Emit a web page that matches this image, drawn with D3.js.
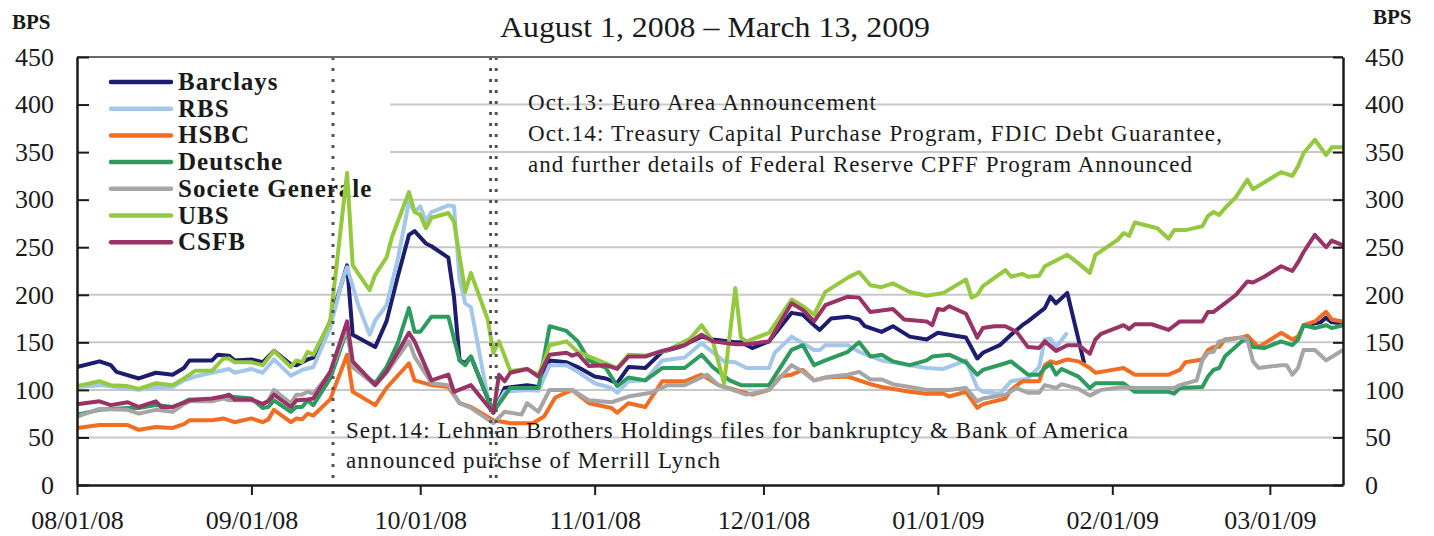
<!DOCTYPE html>
<html>
<head>
<meta charset="utf-8">
<script src="https://cdn.jsdelivr.net/npm/d3@7"></script>
<style>
body{margin:0;background:#fff;}
text{font-family:"Liberation Serif","Times New Roman",serif;fill:#1a1a1a;}
</style>
</head>
<body>
<script>
// dane (bps)
var barclays=[["2008-08-01",124],["2008-08-05",130],["2008-08-07",126],["2008-08-08",119],["2008-08-12",112],["2008-08-15",118],["2008-08-18",116],["2008-08-20",123],["2008-08-21",131],["2008-08-25",131],["2008-08-26",137],["2008-08-28",136],["2008-08-29",131],["2008-09-01",132],["2008-09-03",129],["2008-09-05",141],["2008-09-08",127],["2008-09-09",126],["2008-09-11",132],["2008-09-12",134],["2008-09-15",172],["2008-09-18",231],["2008-09-19",158],["2008-09-23",145],["2008-09-25",172],["2008-09-27",219],["2008-09-29",263],["2008-09-30",267],["2008-10-02",254],["2008-10-03",251],["2008-10-06",239],["2008-10-07",198],["2008-10-08",131],["2008-10-09",128],["2008-10-10",135],["2008-10-14",76],["2008-10-16",102],["2008-10-20",105],["2008-10-22",103],["2008-10-24",131],["2008-10-27",129],["2008-10-29",124],["2008-11-01",114],["2008-11-03",112],["2008-11-05",107],["2008-11-07",124],["2008-11-10",123],["2008-11-13",140],["2008-11-16",145],["2008-11-20",156],["2008-11-22",153],["2008-11-26",150],["2008-11-27",150],["2008-11-29",144],["2008-12-02",151],["2008-12-06",181],["2008-12-08",179],["2008-12-10",168],["2008-12-11",163],["2008-12-13",175],["2008-12-16",177],["2008-12-18",174],["2008-12-19",167],["2008-12-22",161],["2008-12-24",167],["2008-12-27",156],["2008-12-30",153],["2009-01-01",160],["2009-01-03",158],["2009-01-06",155],["2009-01-08",133],["2009-01-09",139],["2009-01-12",147],["2009-01-14",158],["2009-01-16",168],["2009-01-17",172],["2009-01-20",186],["2009-01-21",198],["2009-01-22",191],["2009-01-24",202],["2009-01-27",128],["2009-01-28",null],["2009-03-07",167],["2009-03-09",170],["2009-03-10",171],["2009-03-11",176],["2009-03-12",171],["2009-03-14",170]];
var rbs=[["2008-08-01",103],["2008-08-05",105],["2008-08-12",100],["2008-08-15",103],["2008-08-18",103],["2008-08-20",110],["2008-08-22",114],["2008-08-25",118],["2008-08-28",122],["2008-08-29",118],["2008-09-01",122],["2008-09-03",118],["2008-09-05",132],["2008-09-08",115],["2008-09-10",121],["2008-09-12",124],["2008-09-15",165],["2008-09-17",212],["2008-09-18",229],["2008-09-20",189],["2008-09-22",158],["2008-09-23",173],["2008-09-25",189],["2008-09-27",237],["2008-09-29",298],["2008-09-30",287],["2008-10-01",293],["2008-10-02",277],["2008-10-03",287],["2008-10-06",294],["2008-10-07",293],["2008-10-08",216],["2008-10-09",191],["2008-10-10",187],["2008-10-13",92],["2008-10-14",78],["2008-10-16",98],["2008-10-20",100],["2008-10-22",99],["2008-10-24",126],["2008-10-27",126],["2008-10-29",119],["2008-11-01",107],["2008-11-04",102],["2008-11-05",97],["2008-11-07",109],["2008-11-10",110],["2008-11-13",131],["2008-11-17",134],["2008-11-20",149],["2008-11-24",130],["2008-11-26",129],["2008-11-28",123],["2008-12-02",123],["2008-12-03",139],["2008-12-06",156],["2008-12-08",149],["2008-12-10",142],["2008-12-11",142],["2008-12-12",147],["2008-12-16",147],["2008-12-18",140],["2008-12-22",131],["2008-12-27",126],["2008-12-30",123],["2009-01-02",122],["2009-01-06",131],["2009-01-08",102],["2009-01-09",98],["2009-01-12",96],["2009-01-14",109],["2009-01-17",112],["2009-01-19",124],["2009-01-20",153],["2009-01-21",154],["2009-01-22",145],["2009-01-24",160]];
var hsbc=[["2008-08-01",60],["2008-08-05",63],["2008-08-10",63],["2008-08-12",58],["2008-08-15",61],["2008-08-18",60],["2008-08-20",64],["2008-08-21",68],["2008-08-25",68],["2008-08-27",70],["2008-08-29",66],["2008-09-01",70],["2008-09-03",66],["2008-09-04",69],["2008-09-05",79],["2008-09-08",66],["2008-09-09",70],["2008-09-10",69],["2008-09-11",75],["2008-09-12",73],["2008-09-15",90],["2008-09-18",137],["2008-09-19",98],["2008-09-23",84],["2008-09-25",102],["2008-09-29",128],["2008-09-30",110],["2008-10-03",105],["2008-10-06",103],["2008-10-08",86],["2008-10-10",82],["2008-10-14",68],["2008-10-17",65],["2008-10-21",65],["2008-10-23",72],["2008-10-25",92],["2008-10-28",100],["2008-10-31",86],["2008-11-04",81],["2008-11-05",76],["2008-11-07",86],["2008-11-10",82],["2008-11-13",109],["2008-11-17",109],["2008-11-20",116],["2008-11-23",105],["2008-11-29",95],["2008-12-02",100],["2008-12-04",114],["2008-12-06",116],["2008-12-08",121],["2008-12-10",110],["2008-12-12",113],["2008-12-16",114],["2008-12-20",106],["2008-12-22",103],["2008-12-27",98],["2008-12-30",96],["2009-01-02",96],["2009-01-03",93],["2009-01-06",98],["2009-01-08",81],["2009-01-09",85],["2009-01-13",91],["2009-01-14",100],["2009-01-16",109],["2009-01-19",109],["2009-01-20",126],["2009-01-21",130],["2009-01-22",128],["2009-01-24",132],["2009-01-26",130],["2009-01-28",123],["2009-01-29",118],["2009-01-31",120],["2009-02-03",123],["2009-02-05",116],["2009-02-11",116],["2009-02-13",121],["2009-02-14",129],["2009-02-17",132],["2009-02-18",142],["2009-02-19",145],["2009-02-20",145],["2009-02-21",153],["2009-02-24",155],["2009-02-25",157],["2009-02-27",145],["2009-03-03",160],["2009-03-05",153],["2009-03-06",156],["2009-03-07",168],["2009-03-09",172],["2009-03-11",182],["2009-03-12",174],["2009-03-14",172]];
var deutsche=[["2008-08-01",74],["2008-08-05",79],["2008-08-10",81],["2008-08-12",81],["2008-08-15",84],["2008-08-18",82],["2008-08-20",87],["2008-08-21",90],["2008-08-25",90],["2008-08-27",93],["2008-08-28",93],["2008-09-01",91],["2008-09-03",81],["2008-09-04",82],["2008-09-05",89],["2008-09-08",77],["2008-09-09",82],["2008-09-10",82],["2008-09-11",89],["2008-09-12",84],["2008-09-15",112],["2008-09-18",163],["2008-09-19",124],["2008-09-23",107],["2008-09-25",124],["2008-09-27",149],["2008-09-29",186],["2008-09-30",161],["2008-10-01",161],["2008-10-03",177],["2008-10-06",177],["2008-10-08",131],["2008-10-09",126],["2008-10-10",135],["2008-10-14",77],["2008-10-17",102],["2008-10-22",102],["2008-10-24",167],["2008-10-27",162],["2008-10-29",151],["2008-10-31",131],["2008-11-03",123],["2008-11-05",104],["2008-11-07",113],["2008-11-10",110],["2008-11-13",123],["2008-11-17",123],["2008-11-20",137],["2008-11-22",124],["2008-11-25",110],["2008-11-27",105],["2008-12-02",105],["2008-12-06",142],["2008-12-08",147],["2008-12-10",126],["2008-12-12",131],["2008-12-16",140],["2008-12-18",150],["2008-12-20",135],["2008-12-22",137],["2008-12-24",130],["2008-12-27",126],["2008-12-30",131],["2008-12-31",135],["2009-01-03",137],["2009-01-06",129],["2009-01-08",116],["2009-01-09",121],["2009-01-13",128],["2009-01-14",130],["2009-01-17",116],["2009-01-19",116],["2009-01-20",123],["2009-01-21",127],["2009-01-22",116],["2009-01-23",122],["2009-01-26",114],["2009-01-28",102],["2009-01-29",107],["2009-02-03",107],["2009-02-05",98],["2009-02-11",98],["2009-02-12",96],["2009-02-13",102],["2009-02-17",103],["2009-02-18",114],["2009-02-19",121],["2009-02-20",123],["2009-02-21",135],["2009-02-24",151],["2009-02-25",154],["2009-02-26",145],["2009-02-28",144],["2009-03-03",151],["2009-03-05",147],["2009-03-06",153],["2009-03-07",168],["2009-03-09",165],["2009-03-11",168],["2009-03-12",165],["2009-03-14",168]];
var socgen=[["2008-08-01",72],["2008-08-05",80],["2008-08-10",79],["2008-08-12",75],["2008-08-15",79],["2008-08-18",77],["2008-08-20",85],["2008-08-21",88],["2008-08-25",88],["2008-08-27",91],["2008-08-28",89],["2008-09-01",89],["2008-09-03",85],["2008-09-04",89],["2008-09-05",100],["2008-09-08",86],["2008-09-09",95],["2008-09-10",95],["2008-09-11",98],["2008-09-12",96],["2008-09-15",118],["2008-09-18",165],["2008-09-19",124],["2008-09-23",105],["2008-09-25",118],["2008-09-29",151],["2008-09-30",135],["2008-10-03",107],["2008-10-06",105],["2008-10-08",86],["2008-10-10",81],["2008-10-14",65],["2008-10-16",77],["2008-10-19",74],["2008-10-20",86],["2008-10-22",77],["2008-10-24",100],["2008-10-28",100],["2008-10-31",89],["2008-11-04",87],["2008-11-07",93],["2008-11-11",97],["2008-11-14",105],["2008-11-17",105],["2008-11-21",116],["2008-11-23",105],["2008-11-28",95],["2008-12-02",100],["2008-12-06",126],["2008-12-08",119],["2008-12-10",110],["2008-12-13",114],["2008-12-16",116],["2008-12-18",119],["2008-12-20",111],["2008-12-22",111],["2008-12-24",106],["2008-12-27",103],["2008-12-30",100],["2009-01-03",100],["2009-01-06",102],["2009-01-08",88],["2009-01-09",91],["2009-01-13",95],["2009-01-15",102],["2009-01-17",97],["2009-01-19",97],["2009-01-20",105],["2009-01-22",102],["2009-01-23",106],["2009-01-26",101],["2009-01-28",94],["2009-01-30",100],["2009-02-03",103],["2009-02-05",102],["2009-02-12",102],["2009-02-13",105],["2009-02-16",110],["2009-02-17",131],["2009-02-18",139],["2009-02-19",140],["2009-02-20",151],["2009-02-22",153],["2009-02-24",155],["2009-02-25",153],["2009-02-26",130],["2009-02-27",123],["2009-03-03",126],["2009-03-04",126],["2009-03-05",116],["2009-03-06",123],["2009-03-07",142],["2009-03-09",142],["2009-03-11",131],["2009-03-14",142]];
var ubs=[["2008-08-01",104],["2008-08-05",109],["2008-08-07",105],["2008-08-10",104],["2008-08-12",101],["2008-08-15",107],["2008-08-18",105],["2008-08-20",112],["2008-08-22",120],["2008-08-25",120],["2008-08-27",133],["2008-08-28",133],["2008-08-29",129],["2008-09-01",129],["2008-09-03",126],["2008-09-05",141],["2008-09-08",124],["2008-09-09",131],["2008-09-10",129],["2008-09-11",140],["2008-09-12",137],["2008-09-15",172],["2008-09-18",328],["2008-09-19",231],["2008-09-22",205],["2008-09-23",221],["2008-09-25",239],["2008-09-26",261],["2008-09-29",308],["2008-09-30",287],["2008-10-01",284],["2008-10-02",270],["2008-10-03",281],["2008-10-06",286],["2008-10-07",277],["2008-10-09",203],["2008-10-10",223],["2008-10-13",174],["2008-10-14",139],["2008-10-15",151],["2008-10-17",120],["2008-10-20",122],["2008-10-22",116],["2008-10-23",130],["2008-10-24",147],["2008-10-27",151],["2008-10-29",140],["2008-11-05",123],["2008-11-07",137],["2008-11-10",136],["2008-11-14",142],["2008-11-18",154],["2008-11-20",168],["2008-11-22",151],["2008-11-24",107],["2008-11-26",207],["2008-11-27",155],["2008-11-28",151],["2008-12-02",160],["2008-12-06",195],["2008-12-08",188],["2008-12-10",179],["2008-12-12",203],["2008-12-16",218],["2008-12-18",224],["2008-12-20",210],["2008-12-22",208],["2008-12-24",212],["2008-12-27",203],["2008-12-30",199],["2009-01-02",202],["2009-01-06",216],["2009-01-07",197],["2009-01-08",200],["2009-01-09",209],["2009-01-13",226],["2009-01-14",219],["2009-01-16",222],["2009-01-17",219],["2009-01-19",220],["2009-01-20",230],["2009-01-24",242],["2009-01-26",233],["2009-01-28",223],["2009-01-29",242],["2009-02-02",258],["2009-02-03",265],["2009-02-04",262],["2009-02-05",276],["2009-02-09",270],["2009-02-11",259],["2009-02-12",268],["2009-02-14",268],["2009-02-17",272],["2009-02-18",283],["2009-02-19",287],["2009-02-20",284],["2009-02-21",291],["2009-02-23",303],["2009-02-25",321],["2009-02-26",311],["2009-03-03",329],["2009-03-05",325],["2009-03-06",335],["2009-03-07",349],["2009-03-09",363],["2009-03-11",347],["2009-03-12",355],["2009-03-14",355]];
var csfb=[["2008-08-01",85],["2008-08-05",88],["2008-08-07",84],["2008-08-10",87],["2008-08-12",82],["2008-08-15",88],["2008-08-16",82],["2008-08-18",82],["2008-08-21",89],["2008-08-25",91],["2008-08-27",93],["2008-08-28",95],["2008-08-29",90],["2008-09-01",90],["2008-09-03",85],["2008-09-04",88],["2008-09-05",95],["2008-09-08",82],["2008-09-09",89],["2008-09-11",90],["2008-09-12",91],["2008-09-15",119],["2008-09-18",172],["2008-09-19",130],["2008-09-23",105],["2008-09-25",119],["2008-09-29",160],["2008-09-30",151],["2008-10-03",110],["2008-10-06",116],["2008-10-07",98],["2008-10-10",105],["2008-10-14",76],["2008-10-15",116],["2008-10-16",109],["2008-10-17",118],["2008-10-20",122],["2008-10-22",114],["2008-10-24",137],["2008-10-27",139],["2008-10-28",136],["2008-10-29",138],["2008-10-31",125],["2008-11-03",126],["2008-11-05",122],["2008-11-07",135],["2008-11-10",135],["2008-11-13",141],["2008-11-17",147],["2008-11-20",158],["2008-11-22",151],["2008-11-26",148],["2008-11-28",148],["2008-12-02",151],["2008-12-06",191],["2008-12-08",184],["2008-12-10",172],["2008-12-12",189],["2008-12-16",198],["2008-12-18",197],["2008-12-20",182],["2008-12-24",185],["2008-12-26",174],["2008-12-30",172],["2008-12-31",168],["2009-01-01",185],["2009-01-02",184],["2009-01-03",188],["2009-01-06",180],["2009-01-08",155],["2009-01-09",165],["2009-01-11",167],["2009-01-13",167],["2009-01-15",161],["2009-01-17",145],["2009-01-19",144],["2009-01-20",151],["2009-01-22",141],["2009-01-24",147],["2009-01-26",147],["2009-01-28",138],["2009-01-29",153],["2009-01-30",159],["2009-02-03",168],["2009-02-04",164],["2009-02-05",169],["2009-02-08",169],["2009-02-11",163],["2009-02-13",172],["2009-02-17",172],["2009-02-18",182],["2009-02-19",182],["2009-02-21",191],["2009-02-23",200],["2009-02-25",214],["2009-02-26",213],["2009-02-28",219],["2009-03-03",230],["2009-03-05",225],["2009-03-06",234],["2009-03-07",245],["2009-03-09",263],["2009-03-11",250],["2009-03-12",257],["2009-03-14",252]];

var nazwy=["Barclays","RBS","HSBC","Deutsche","Societe Generale","UBS","CSFB"];
var kolory=["#1d1d6f","#a3c7ea","#f26d21","#2e9b5e","#a5a5a5","#93c83f","#993366"];
var serie=[barclays,rbs,hsbc,deutsche,socgen,ubs,csfb];

var yTicks=[0,50,100,150,200,250,300,350,400,450];
var xTicks=["2008-08-01","2008-09-01","2008-10-01","2008-11-01","2008-12-01","2009-01-01","2009-02-01","2009-03-01"];
var zdarzenia=["2008-09-15","2008-10-13","2008-10-14"];
var tytul="August 1, 2008 \u2013 March 13, 2009";
var opisOkt=["Oct.13: Euro Area Announcement","Oct.14: Treasury Capital Purchase Program, FDIC Debt Guarantee,","and further details of Federal Reserve CPFF Program Announced"];
var opisWrz=["Sept.14: Lehman Brothers Holdings files for bankruptcy & Bank of America","announced purchse of Merrill Lynch"];

var parse=d3.timeParse("%Y-%m-%d");
var L=77,R=1343,T=57,B=485;

var x=d3.scaleTime().domain([parse("2008-08-01"),parse("2009-03-14")]).range([L,R]);
var y=d3.scaleLinear().domain([0,450]).range([B,T]);

var svg=d3.select("body").append("svg")
	.attr("width",1434)
	.attr("height",536);

// linie siatki
svg.append("g").selectAll("line")
	.data(yTicks.filter(function(v){return v>0&&v<450;}))
	.enter().append("line")
	.attr("x1",L).attr("x2",R)
	.attr("y1",function(v){return y(v);})
	.attr("y2",function(v){return y(v);})
	.style("stroke","#c8c8c8")
	.style("stroke-width",2);

// tlo legendy zaslania siatke
svg.append("rect")
	.attr("x",L+1).attr("y",T+2)
	.attr("width",312).attr("height",197)
	.style("fill","white");

// legenda
var leg=svg.append("g");
nazwy.forEach(function(n,i){
	var ly=82+i*26.7;
	leg.append("line")
		.attr("x1",111).attr("x2",171)
		.attr("y1",ly).attr("y2",ly)
		.style("stroke",kolory[i])
		.style("stroke-width",4.5)
		.style("stroke-linecap","round");
	leg.append("text")
		.attr("x",178).attr("y",ly+8)
		.style("font-size","25px")
		.style("font-weight","bold")
		.style("letter-spacing","1px")
		.text(n);
});

// serie
var linia=d3.line()
	.defined(function(d){return d[1]!=null;})
	.x(function(d){return x(parse(d[0]));})
	.y(function(d){return y(d[1]);});

serie.forEach(function(s,i){
	svg.append("path")
		.datum(s)
		.attr("d",linia)
		.style("fill","none")
		.style("stroke",kolory[i])
		.style("stroke-width",4)
		.style("stroke-linejoin","round");
});

// linie zdarzen (kropkowane)
svg.append("g").selectAll("line")
	.data(zdarzenia)
	.enter().append("line")
	.attr("x1",function(d){return x(d3.timeHour.offset(parse(d),12));})
	.attr("x2",function(d){return x(d3.timeHour.offset(parse(d),12));})
	.attr("y1",T).attr("y2",B)
	.style("stroke","#555")
	.style("stroke-width",3)
	.style("stroke-dasharray","3,8");

// opisy
var dlOkt=[348,694,664];
opisOkt.forEach(function(t,i){
	svg.append("text")
		.attr("x",528).attr("y",110+i*31)
		.attr("textLength",dlOkt[i])
		.attr("lengthAdjust","spacing")
		.style("font-size","23px")
		.text(t);
});
var dlWrz=[782,374];
opisWrz.forEach(function(t,i){
	svg.append("text")
		.attr("x",346).attr("y",438+i*30)
		.attr("textLength",dlWrz[i])
		.attr("lengthAdjust","spacing")
		.style("font-size","23px")
		.text(t);
});

// tytul
svg.append("text")
	.attr("x",715).attr("y",37)
	.attr("text-anchor","middle")
	.attr("textLength",430)
	.attr("lengthAdjust","spacingAndGlyphs")
	.style("font-size","29px")
	.text(tytul);

svg.append("text").attr("x",12).attr("y",29)
	.style("font-size","21px").style("font-weight","bold").text("BPS");
svg.append("text").attr("x",1373).attr("y",24)
	.style("font-size","21px").style("font-weight","bold").text("BPS");

// gorna ramka
svg.append("line")
	.attr("x1",L).attr("x2",R).attr("y1",T).attr("y2",T)
	.style("stroke","#6a6a6a").style("stroke-width",2);

// osie
var osL=svg.append("g").attr("transform","translate("+L+",0)")
	.call(d3.axisLeft(y).tickValues(yTicks).tickSizeInner(-12).tickSizeOuter(0).tickPadding(23));
var osP=svg.append("g").attr("transform","translate("+R+",0)")
	.call(d3.axisRight(y).tickValues(yTicks).tickSizeInner(-10).tickSizeOuter(0).tickPadding(22));
var osD=svg.append("g").attr("transform","translate(0,"+B+")")
	.call(d3.axisBottom(x).tickValues(xTicks.map(parse)).tickFormat(d3.timeFormat("%m/%d/%y"))
		.tickSize(10).tickSizeOuter(0).tickPadding(16));

[osL,osP,osD].forEach(function(o){
	o.select(".domain").style("stroke","#1a1a1a").style("stroke-width",2.5);
	o.selectAll(".tick line").style("stroke","#1a1a1a").style("stroke-width",2);
	o.selectAll(".tick text")
		.style("font-family","'Liberation Serif','Times New Roman',serif")
		.style("font-size","26px")
		.style("fill","#1a1a1a");
});
</script>
</body>
</html>
